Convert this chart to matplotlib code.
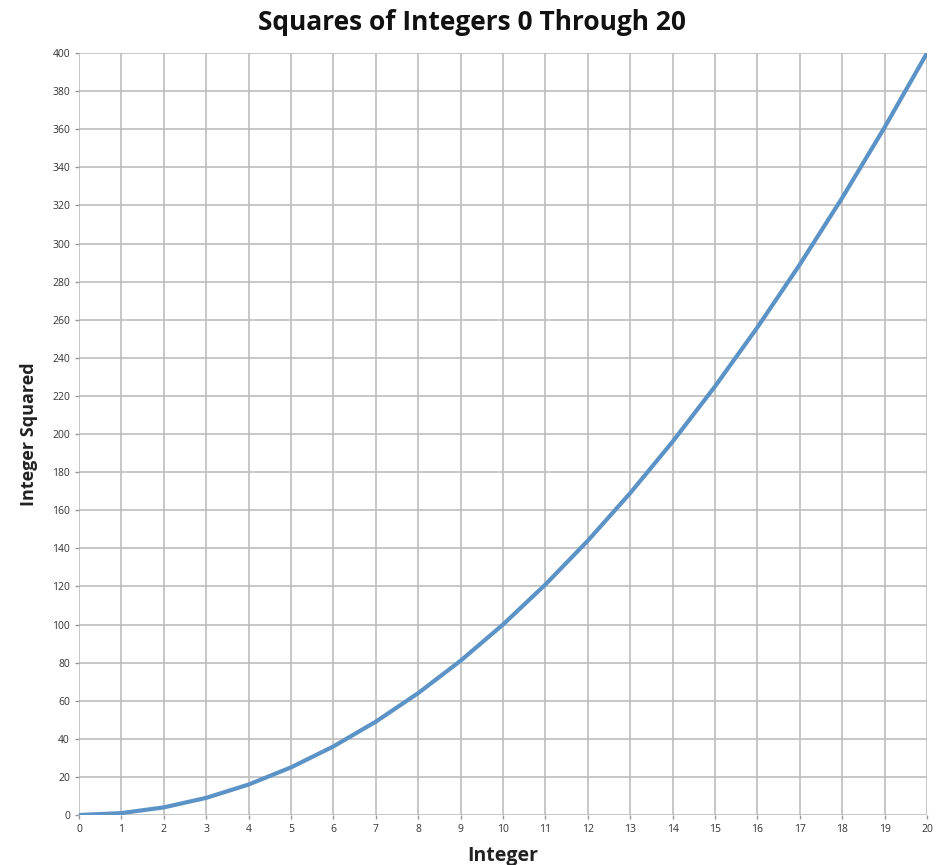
import matplotlib
matplotlib.use("Agg")
import matplotlib.pyplot as plt

# data
integers = [0, 1, 2, 3, 4, 5, 6, 7, 8, 9, 10, 11, 12, 13, 14, 15, 16, 17, 18, 19, 20]
squares = [0, 1, 4, 9, 16, 25, 36, 49, 64, 81, 100, 121, 144, 169, 196, 225, 256, 289, 324, 361, 400]
y_ticks = list(range(0, 401, 20))

plt.rcParams['font.family'] = ['Open Sans', 'DejaVu Sans']

fig = plt.figure(figsize=(9.42, 8.65), dpi=100)
ax = fig.add_axes([0.0839, 0.0578, 0.9002, 0.8809])

ax.plot(integers, squares, color='#5b93c6', linewidth=3.0, solid_capstyle='round',
        solid_joinstyle='round', zorder=3)

ax.set_xlim(0, 20)
ax.set_ylim(0, 400)
ax.set_xticks(integers)
ax.set_yticks(y_ticks)
ax.tick_params(labelsize=7.5, colors='#999999', labelcolor='#333333', length=3, width=1)
ax.grid(True, color='#bdbdbd', linewidth=1.2)
ax.set_axisbelow(True)
for s in ax.spines.values():
    s.set_visible(False)

ax.set_xlabel('Integer', fontsize=14, fontweight='bold', color='#222222', labelpad=8)
ax.set_ylabel('Integer Squared', fontsize=13, fontweight='bold', color='#222222', labelpad=10)
fig.suptitle('Squares of Integers 0 Through 20', fontsize=19, fontweight='bold',
             color='#111111', x=0.501, y=0.99)

fig.savefig('out.png', dpi=100)
